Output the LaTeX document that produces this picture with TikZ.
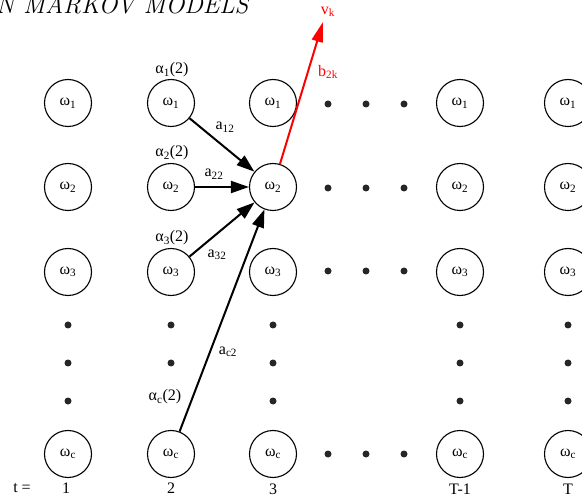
\documentclass[tikz,border=0pt]{standalone}
\usepackage{fontspec}
\newfontfamily\tms{Liberation Serif}
\usetikzlibrary{arrows.meta}
\begin{document}
\begin{tikzpicture}[x=1pt,y=-1pt,
  st/.style={circle,draw,line width=1.1pt,minimum size=47pt,inner sep=0pt,font=\tms\fontsize{16}{18}\selectfont},
  lbl/.style={font=\tms\fontsize{16}{18}\selectfont,inner sep=0pt},
  dotn/.style={circle,fill=black!85,minimum size=7pt,inner sep=0pt},
  arr/.style={line width=2pt,-{Triangle[length=18pt,width=12pt]}},
  rarr/.style={line width=2pt,red,-{Triangle[length=20pt,width=11pt]}},
]
\useasboundingbox (0,0) rectangle (582,500);
\node[anchor=base west,inner sep=0pt,font=\fontsize{25}{25}\selectfont\itshape] (title) at (-4,14) {N MARKOV MODELS};
% state nodes
\foreach \c/\x in {1/68,2/171,3/273,4/460,5/568}{
  \node[st] (c\c r1) at (\x,103) {ω\textsubscript{1}};
  \node[st] (c\c r2) at (\x,187) {ω\textsubscript{2}};
  \node[st] (c\c r3) at (\x,272) {ω\textsubscript{3}};
  \node[st] (c\c rc) at (\x,454) {ω\textsubscript{c}};
  \node[dotn] (d\c a) at (\x,325) {};
  \node[dotn] (d\c b) at (\x,363) {};
}
\foreach \c/\x in {1/68,3/273,4/460,5/568}{
  \node[dotn] (d\c c) at (\x,401) {};
}
% horizontal dots
\foreach \r/\y in {1/104,2/188,3/271,c/454}{
  \node[dotn] (h\r a) at (328,\y) {};
  \node[dotn] (h\r b) at (366,\y) {};
  \node[dotn] (h\r c) at (404,\y) {};
}
% arrows
\draw[arr] (c2r1) -- (c3r2);
\draw[arr] (c2r2) -- (c3r2);
\draw[arr] (c2r3) -- (c3r2);
\draw[arr] (c2rc) -- (c3r2);
\coordinate (vtip) at (323,22);
\draw[rarr] (c3r2) -- (vtip);
% labels
\node[lbl] (al1) at (172,70) {α\textsubscript{1}(2)};
\node[lbl] (al2) at (172,153) {α\textsubscript{2}(2)};
\node[lbl] (al3) at (172,238) {α\textsubscript{3}(2)};
\node[lbl] (alc) at (165,397) {α\textsubscript{c}(2)};
\node[lbl] (a12) at (225,127) {a\textsubscript{12}};
\node[lbl] (a22) at (214,174) {a\textsubscript{22}};
\node[lbl] (a32) at (217,255) {a\textsubscript{32}};
\node[lbl] (ac2) at (228,352) {a\textsubscript{c2}};
\node[lbl,red] (b2k) at (328,72) {b\textsubscript{2k}};
\node[lbl,red] (vk) at (328,12) {v\textsubscript{k}};
% time labels
\node[lbl] (tl) at (22,488) {t =};
\node[lbl] (t1) at (66,488) {1};
\node[lbl] (t2) at (171,488) {2};
\node[lbl] (t3) at (273,489) {3};
\node[lbl] (t4) at (460,489) {T-1};
\node[lbl] (t5) at (568,489) {T};
\end{tikzpicture}
\end{document}
